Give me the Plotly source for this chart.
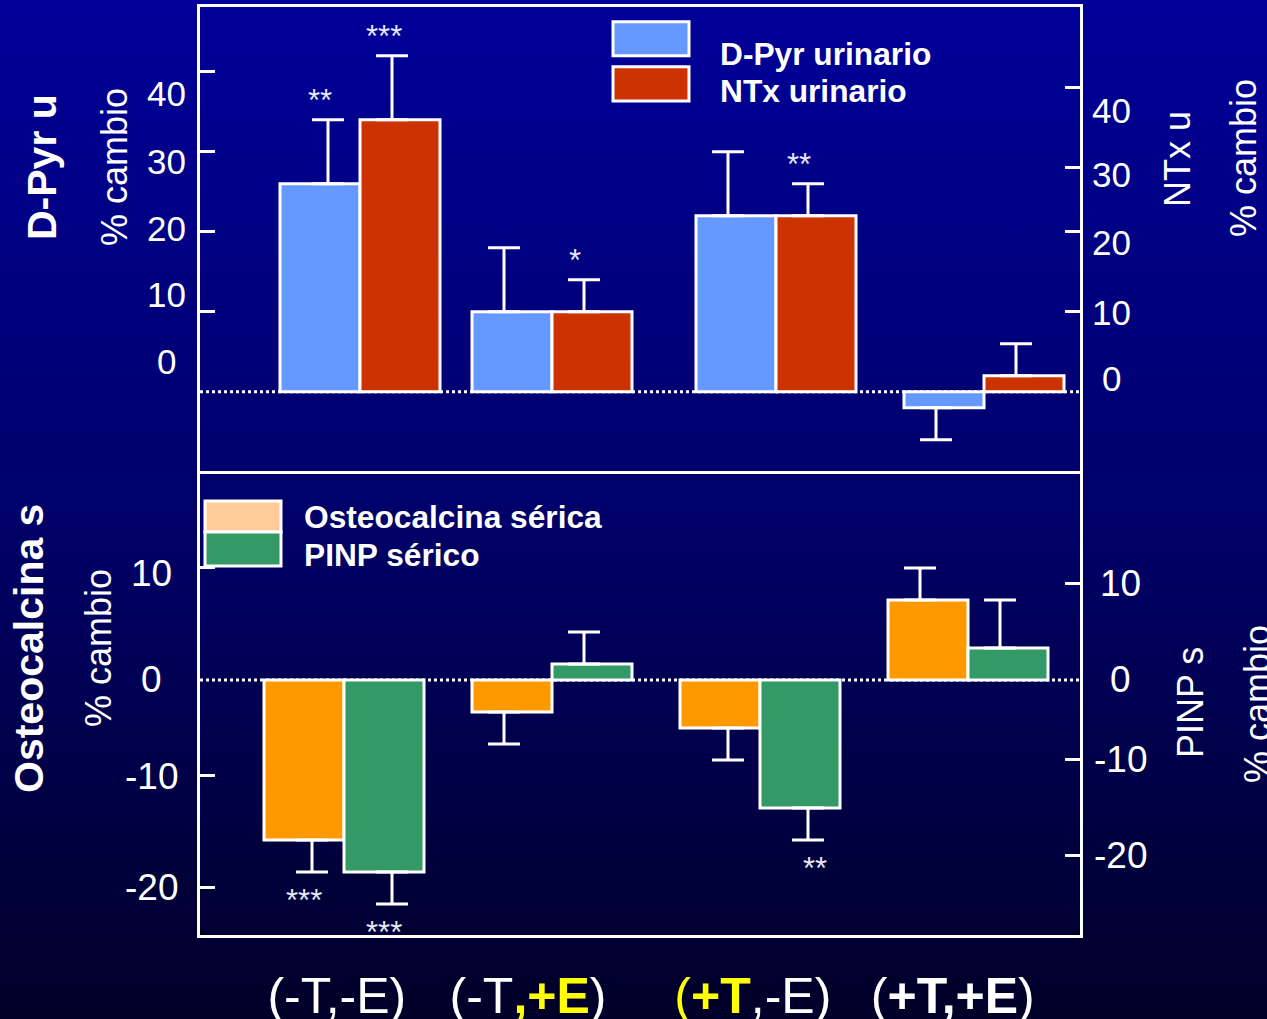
import base64
import plotly.graph_objects as go

# ---------------------------------------------------------------- data
CATEGORIES = ["(-T,-E)", "(-T,+E)", "(+T,-E)", "(+T,+E)"]

# upper panel: urinary resorption markers, % change (mean and SEM)
DPYR_U = [26, 10, 22, -2]
DPYR_U_SEM = [8, 8, 8, 4]
NTX_U = [34, 10, 22, 2]
NTX_U_SEM = [8, 4, 4, 4]

# lower panel: serum formation markers, % change (mean and SEM)
OSTEOCALCIN_S = [-15, -3, -4.5, 7.5]
OSTEOCALCIN_S_SEM = [3, 3, 3, 3]
PINP_S = [-18, 1.5, -12, 3]
PINP_S_SEM = [3, 3, 3, 4.5]

# significance marks: (series, group index, text)
TOP_SIGNIF = [("dpyr", 0, "**"), ("ntx", 0, "***"), ("ntx", 1, "*"), ("ntx", 2, "**")]
BOTTOM_SIGNIF = [("osteo", 0, "***"), ("pinp", 0, "***"), ("pinp", 2, "**")]

# axis tick labels
TOP_LEFT_LABELS = ["40", "30", "20", "10", "0"]
TOP_RIGHT_LABELS = ["40", "30", "20", "10", "0"]
BOTTOM_LEFT_LABELS = ["10", "0", "-10", "-20"]
BOTTOM_RIGHT_LABELS = ["10", "0", "-10", "-20"]

# ---------------------------------------------------------------- layout constants
W, H = 1267, 1019
ML, MR, MT, MB = 200, 187, 7, 84
FONT = "Liberation Sans, Arial, sans-serif"

BLUE, RED = "#6699FF", "#CC3300"
ORANGE, GREEN, PEACH = "#FF9900", "#339966", "#FFCC99"
YELLOW = "#FFFF00"

# group centres along the x scale (1 unit = one bar width)
TOP_GROUP_X = [2.0, 4.4, 7.2, 9.8]
BOTTOM_GROUP_X = [1.8, 4.4, 7.0, 9.6]
X_RANGE = [0, 11]

# horizontal nudge of each error bar from its bar centre (x units)
DPYR_ERR_SHIFT = [0.1, -0.1, -0.1, -0.1]
NTX_ERR_SHIFT = [-0.1, -0.1, -0.1, -0.1]
OSTEO_ERR_SHIFT = [0.1, -0.1, 0.1, -0.1]
PINP_ERR_SHIFT = [0.1, -0.1, 0.1, -0.1]

# significance mark nudges (px)
TOP_SIGNIF_DX = [0, -16, -17, -17]
BOTTOM_SIGNIF_DX = [0, 0, 15]

TOP_RANGE = [-9.91, 48.09]
BOTTOM_RANGE = [-23.91, 19.59]

# tick marks on each side
TOP_LEFT_TICKS = [10, 20, 30, 40]
TOP_RIGHT_TICKS = [10, 20, 28, 38]
BOTTOM_LEFT_TICKS = [10.53, -8.97, -19.47]
BOTTOM_RIGHT_TICKS = [9.0, -7.5, -16.5]

# where the tick labels sit on each value scale
TOP_LEFT_LABEL_Y = [37.3, 28.75, 20.4, 12.1, 3.75]
TOP_RIGHT_LABEL_Y = [35.2, 27.1, 18.7, 9.9, 1.7]
BOTTOM_LEFT_LABEL_Y = [10.0, 0, -9.05, -19.5]
BOTTOM_RIGHT_LABEL_Y = [9.0, 0, -7.5, -16.5]

# category captions under the lower panel
CATEGORY_LABEL_X = [1.71, 4.10, 6.91, 9.41]
CATEGORY_TEXT = [
    "(-T,-E)",
    f"(-T<b><span style='color:{YELLOW}'>,+E</span></b>)",
    f"<span style='color:{YELLOW}'>(<b>+T</b></span>,-E)",
    "(<b>+T,+E</b>)",
]


def px_x(px):
    return (px - ML) / (W - ML - MR)


def px_y(py):
    return (H - MB - py) / (H - MT - MB)


def err_ends(vals, sems):
    return [v + e if v >= 0 else v - e for v, e in zip(vals, sems)]


fig = go.Figure()


def add_bars(groups, vals, color, offset, xa, ya):
    fig.add_trace(go.Bar(
        x=groups, y=vals, width=1, offset=offset,
        marker=dict(color=color, line=dict(color="white", width=3)),
        xaxis=xa, yaxis=ya, showlegend=False, hoverinfo="skip",
    ))


def add_errors(centres, vals, sems, shifts, xa, ya):
    xs = [c + s for c, s in zip(centres, shifts)]
    up = [e if v >= 0 else 0 for v, e in zip(vals, sems)]
    dn = [e if v < 0 else 0 for v, e in zip(vals, sems)]
    fig.add_trace(go.Scatter(
        x=xs, y=vals, mode="markers",
        marker=dict(color="rgba(0,0,0,0)", size=1),
        error_y=dict(type="data", symmetric=False, array=up, arrayminus=dn,
                     color="white", thickness=3, width=16),
        xaxis=xa, yaxis=ya, showlegend=False, hoverinfo="skip",
    ))


# bar centres: first series sits left of the group centre, second right
top_c1 = [g - 0.5 for g in TOP_GROUP_X]
top_c2 = [g + 0.5 for g in TOP_GROUP_X]
bot_c1 = [g - 0.5 for g in BOTTOM_GROUP_X]
bot_c2 = [g + 0.5 for g in BOTTOM_GROUP_X]

add_bars(TOP_GROUP_X, DPYR_U, BLUE, -1, "x", "y")
add_bars(TOP_GROUP_X, NTX_U, RED, 0, "x", "y")
add_bars(BOTTOM_GROUP_X, OSTEOCALCIN_S, ORANGE, -1, "x2", "y2")
add_bars(BOTTOM_GROUP_X, PINP_S, GREEN, 0, "x2", "y2")

add_errors(top_c1, DPYR_U, DPYR_U_SEM, DPYR_ERR_SHIFT, "x", "y")
add_errors(top_c2, NTX_U, NTX_U_SEM, NTX_ERR_SHIFT, "x", "y")
add_errors(bot_c1, OSTEOCALCIN_S, OSTEOCALCIN_S_SEM, OSTEO_ERR_SHIFT, "x2", "y2")
add_errors(bot_c2, PINP_S, PINP_S_SEM, PINP_ERR_SHIFT, "x2", "y2")

# placeholders so the right-hand axes get drawn
fig.add_trace(go.Scatter(x=[None], y=[None], xaxis="x", yaxis="y3", showlegend=False))
fig.add_trace(go.Scatter(x=[None], y=[None], xaxis="x2", yaxis="y4", showlegend=False))

annotations = []

# significance marks
series_lookup = {
    "dpyr": (top_c1, DPYR_U, DPYR_U_SEM, "x", "y"),
    "ntx": (top_c2, NTX_U, NTX_U_SEM, "x", "y"),
    "osteo": (bot_c1, OSTEOCALCIN_S, OSTEOCALCIN_S_SEM, "x2", "y2"),
    "pinp": (bot_c2, PINP_S, PINP_S_SEM, "x2", "y2"),
}
for marks, dxs in ((TOP_SIGNIF, TOP_SIGNIF_DX), (BOTTOM_SIGNIF, BOTTOM_SIGNIF_DX)):
    for (key, gi, txt), dx in zip(marks, dxs):
        centres, vals, sems, xa, ya = series_lookup[key]
        end = err_ends(vals, sems)[gi]
        annotations.append(dict(
            x=centres[gi], y=end, xref=xa, yref=ya, text=txt, showarrow=False,
            xanchor="center", yanchor="middle", xshift=dx,
            yshift=19 if vals[gi] >= 0 else -29,
            font=dict(family=FONT, size=31, color="#E6E6F5"),
        ))


def tick_labels(labels, ys, yref, x_px, size, anchor="center"):
    for t, y in zip(labels, ys):
        annotations.append(dict(
            x=px_x(x_px), y=y, xref="paper", yref=yref, text=t, showarrow=False,
            xanchor=anchor, yanchor="middle",
            font=dict(family=FONT, size=size, color="white"),
        ))


tick_labels(TOP_LEFT_LABELS, TOP_LEFT_LABEL_Y, "y", 166, 35)
tick_labels(TOP_RIGHT_LABELS, TOP_RIGHT_LABEL_Y, "y", 1111.5, 35)
tick_labels(BOTTOM_LEFT_LABELS, BOTTOM_LEFT_LABEL_Y, "y2", 151, 37)
tick_labels(BOTTOM_RIGHT_LABELS, BOTTOM_RIGHT_LABEL_Y, "y2", 1120, 37)


def vtitle(text, cx, cy, size, bold=False):
    annotations.append(dict(
        x=px_x(cx), y=px_y(cy), xref="paper", yref="paper",
        text=f"<b>{text}</b>" if bold else text, textangle=-90, showarrow=False,
        xanchor="center", yanchor="middle",
        font=dict(family=FONT, size=size, color="white"),
    ))


vtitle("D-Pyr u", 42, 167, 41, bold=True)
vtitle("% cambio", 114, 167, 36)
vtitle("Osteocalcina s", 29, 649, 41, bold=True)
vtitle("% cambio", 98, 648, 36)
vtitle("NTx u", 1177, 159, 36)
vtitle("% cambio", 1243, 158, 36)
vtitle("PINP s", 1190, 703, 36)
vtitle("% cambio", 1257, 704, 36)

# hand-drawn legends (swatch boxes + bold captions)
shapes = []


def swatch(x0, y0, x1, y1, color):
    shapes.append(dict(
        type="rect", xref="paper", yref="paper",
        x0=px_x(x0), x1=px_x(x1), y0=px_y(y0), y1=px_y(y1),
        fillcolor=color, line=dict(color="white", width=3), layer="above",
    ))


def caption(text, x, y):
    annotations.append(dict(
        x=px_x(x), y=px_y(y), xref="paper", yref="paper", text=f"<b>{text}</b>",
        showarrow=False, xanchor="left", yanchor="middle",
        font=dict(family=FONT, size=31.7, color="white"),
    ))


swatch(613, 21.7, 689, 55.7, BLUE)
swatch(613, 66.7, 689, 101, RED)
caption("D-Pyr urinario", 718, 54)
caption("NTx urinario", 718, 91)

swatch(205, 501, 281, 532, PEACH)
swatch(205, 532, 281, 566, GREEN)
caption("Osteocalcina sérica", 302, 517)
caption("PINP sérico", 302, 555)

# dotted zero reference lines
for xa, ya in (("x", "y"), ("x2", "y2")):
    shapes.append(dict(
        type="line", xref=xa, yref=ya, x0=X_RANGE[0], x1=X_RANGE[1], y0=0, y1=0,
        line=dict(color="white", width=3, dash="dot"), layer="below",
    ))

# vertical blue gradient backdrop
svg = (
    f'<svg xmlns="http://www.w3.org/2000/svg" width="{W}" height="{H}" '
    f'viewBox="0 0 {W} {H}" preserveAspectRatio="none">'
    '<defs><linearGradient id="g" x1="0" y1="0" x2="0" y2="1">'
    '<stop offset="0" stop-color="#000099"/>'
    '<stop offset="0.5" stop-color="#00006A"/>'
    '<stop offset="1" stop-color="#000028"/>'
    '</linearGradient></defs>'
    f'<rect x="0" y="0" width="{W}" height="{H}" fill="url(#g)"/></svg>'
)
bg_src = "data:image/svg+xml;base64," + base64.b64encode(svg.encode()).decode()

line_style = dict(showline=True, linecolor="white", linewidth=3,
                  showgrid=False, zeroline=False, automargin=False)
ytick_style = dict(ticks="inside", ticklen=15, tickwidth=3, tickcolor="white",
                   showticklabels=False)

fig.update_layout(
    width=W, height=H, autosize=False,
    margin=dict(l=ML, r=MR, t=MT, b=MB, pad=0, autoexpand=False),
    paper_bgcolor="#000028", plot_bgcolor="rgba(0,0,0,0)",
    barmode="overlay", showlegend=False,
    font=dict(family=FONT, color="white"),
    images=[dict(
        source=bg_src, xref="paper", yref="paper",
        x=px_x(0), y=px_y(0), sizex=W / (W - ML - MR), sizey=H / (H - MT - MB),
        xanchor="left", yanchor="top", sizing="stretch", layer="below",
    )],
    # upper frame: top and bottom edges come from this axis
    xaxis=dict(domain=[0, 1], anchor="y", range=X_RANGE, mirror=True,
               ticks="", showticklabels=False, **line_style),
    yaxis=dict(domain=[0.5, 1], anchor="x", range=TOP_RANGE,
               tickvals=TOP_LEFT_TICKS, **ytick_style, **line_style),
    yaxis3=dict(overlaying="y", side="right", anchor="x", range=TOP_RANGE,
                tickvals=TOP_RIGHT_TICKS, **ytick_style, **line_style),
    # lower frame shares the dividing edge with the upper one
    xaxis2=dict(domain=[0, 1], anchor="y2", range=X_RANGE, mirror=False,
                ticks="", tickvals=CATEGORY_LABEL_X, ticktext=CATEGORY_TEXT,
                tickfont=dict(family=FONT, size=50, color="white"),
                ticklabelstandoff=15, **line_style),
    yaxis2=dict(domain=[0, 0.5], anchor="x2", range=BOTTOM_RANGE,
                tickvals=BOTTOM_LEFT_TICKS, **ytick_style, **line_style),
    yaxis4=dict(overlaying="y2", side="right", anchor="x2", range=BOTTOM_RANGE,
                tickvals=BOTTOM_RIGHT_TICKS, **ytick_style, **line_style),
    shapes=shapes,
    annotations=annotations,
)

fig.write_html("out.html")
